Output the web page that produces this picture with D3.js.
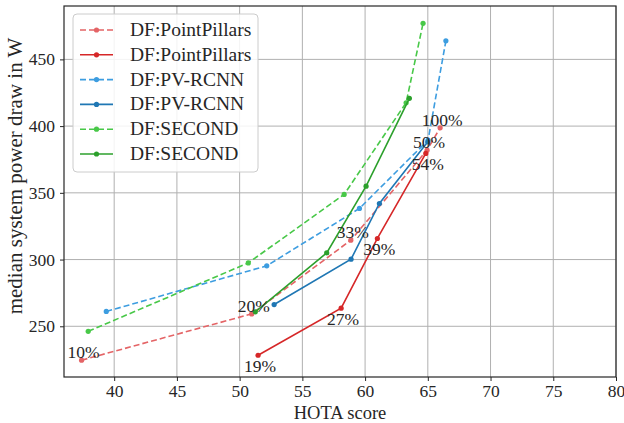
<!DOCTYPE html>
<html>
<head>
<meta charset="utf-8">
<script src="https://cdn.jsdelivr.net/npm/d3@7"></script>
<style>
  body { margin: 0; background: #fff; }
  svg text { font-family: "Liberation Serif", "DejaVu Serif", serif; fill: #262626; }
</style>
</head>
<body>
<div id="chart"></div>
<script>
// HOTA score (x) vs median power draw (y)
var pp_dash_x = [37.4, 50.96, 58.86, 64.94, 65.98];
var pp_dash_y = [224.6, 259.3, 314.5, 382, 398.7];
var pp_dash_lbl = ['10%', '20%', '33%', '50%', '100%'];
var pp_x = [51.47, 58.09, 60.98, 64.84];
var pp_y = [228.3, 263.6, 315.8, 379.5];
var pp_lbl = ['19%', '27%', '39%', '54%'];
var pv_dash_x = [39.37, 52.16, 59.55, 65.02, 66.44];
var pv_dash_y = [261.1, 295.3, 338.3, 389.5, 463.9];
var pv_x = [52.75, 58.88, 61.14, 65.0];
var pv_y = [266.3, 300.3, 342, 388.2];
var sec_dash_x = [37.93, 50.69, 58.33, 63.27, 64.62];
var sec_dash_y = [246.2, 297.5, 348.8, 417.5, 477];
var sec_x = [51.25, 56.94, 60.08, 63.53];
var sec_y = [260.8, 305, 355, 420.8];
var x_ticks = [40, 45, 50, 55, 60, 65, 70, 75, 80];
var y_ticks = [250, 300, 350, 400, 450];

var series = [
  {name: 'DF:PointPillars', xs: pp_dash_x, ys: pp_dash_y, color: '#e46466', dash: true, labels: pp_dash_lbl, above: true},
  {name: 'DF:PointPillars', xs: pp_x, ys: pp_y, color: '#d62728', dash: false, labels: pp_lbl, above: false},
  {name: 'DF:PV-RCNN', xs: pv_dash_x, ys: pv_dash_y, color: '#3d9de0', dash: true},
  {name: 'DF:PV-RCNN', xs: pv_x, ys: pv_y, color: '#1f77b4', dash: false},
  {name: 'DF:SECOND', xs: sec_dash_x, ys: sec_dash_y, color: '#48c848', dash: true},
  {name: 'DF:SECOND', xs: sec_x, ys: sec_y, color: '#2ca02c', dash: false}
];

var W = 624, H = 423;
var m_left = 64, m_right = 616, m_top = 6, m_bottom = 377;
var svg = d3.select('#chart').append('svg').attr('width', W).attr('height', H);

var x = d3.scaleLinear().domain([36, 80]).range([m_left, m_right]);
var y = d3.scaleLinear().domain([212, 490]).range([m_bottom, m_top]);

// grid
var grid = svg.append('g');
x_ticks.forEach(t => {
  grid.append('line').attr('x1', x(t)).attr('x2', x(t)).attr('y1', m_top).attr('y2', m_bottom)
    .attr('stroke', '#b0b0b0').attr('stroke-width', 1);
});
y_ticks.forEach(t => {
  grid.append('line').attr('x1', m_left).attr('x2', m_right).attr('y1', y(t)).attr('y2', y(t))
    .attr('stroke', '#b0b0b0').attr('stroke-width', 1);
});

// axes
var xa = svg.append('g').attr('transform', 'translate(0,' + m_bottom + ')')
  .call(d3.axisBottom(x).tickValues(x_ticks).tickSize(4).tickPadding(4));
var ya = svg.append('g').attr('transform', 'translate(' + m_left + ',0)')
  .call(d3.axisLeft(y).tickValues(y_ticks).tickSize(4).tickPadding(5));
[xa, ya].forEach(a => {
  a.select('.domain').remove();
  a.selectAll('line').attr('stroke', '#262626').attr('stroke-width', 1);
  a.selectAll('text').style('font-size', '17.5px').attr('fill', '#262626');
});
xa.selectAll('text').attr('dy', '0.71em');

svg.append('text').text('HOTA score').attr('x', 340).attr('y', 418.5)
  .attr('text-anchor', 'middle').style('font-size', '18.5px');
svg.append('text').text('median system power draw in W')
  .attr('transform', 'translate(22,176) rotate(-90)')
  .attr('text-anchor', 'middle').style('font-size', '21px');

// lines
var line = d3.line();
series.forEach(s => {
  var pts = s.xs.map((v, i) => [x(v), y(s.ys[i])]);
  svg.append('path').attr('d', line(pts)).attr('fill', 'none')
    .attr('stroke', s.color).attr('stroke-width', 1.6)
    .attr('stroke-dasharray', s.dash ? '6,3' : null);
  svg.append('g').selectAll('circle').data(pts).join('circle')
    .attr('cx', d => d[0]).attr('cy', d => d[1]).attr('r', 2.6).attr('fill', s.color);
});

// percentage labels
series.filter(s => s.labels).forEach(s => {
  s.labels.forEach((l, i) => {
    svg.append('text').text(l)
      .attr('x', x(s.xs[i]) + 2)
      .attr('y', y(s.ys[i]) + (s.above ? -2 : 17))
      .attr('text-anchor', 'middle').style('font-size', '17.5px');
  });
});

// frame
svg.append('rect').attr('x', m_left).attr('y', m_top).attr('width', m_right - m_left).attr('height', m_bottom - m_top)
  .attr('fill', 'none').attr('stroke', '#262626').attr('stroke-width', 1.2);

// legend
var lg = svg.append('g').attr('transform', 'translate(73,14)');
lg.append('rect').attr('width', 185).attr('height', 158).attr('rx', 4)
  .attr('fill', 'rgba(255,255,255,0.85)').attr('stroke', '#cccccc');
series.forEach((s, i) => {
  var yy = 16 + i * 24.8;
  lg.append('line').attr('x1', 7).attr('x2', 40).attr('y1', yy).attr('y2', yy)
    .attr('stroke', s.color).attr('stroke-width', 1.6).attr('stroke-dasharray', s.dash ? '6,3' : null);
  lg.append('circle').attr('cx', 23.5).attr('cy', yy).attr('r', 2.6).attr('fill', s.color);
  lg.append('text').text(s.name).attr('x', 57).attr('y', yy + 6).style('font-size', '19.5px');
});
</script>
</body>
</html>
